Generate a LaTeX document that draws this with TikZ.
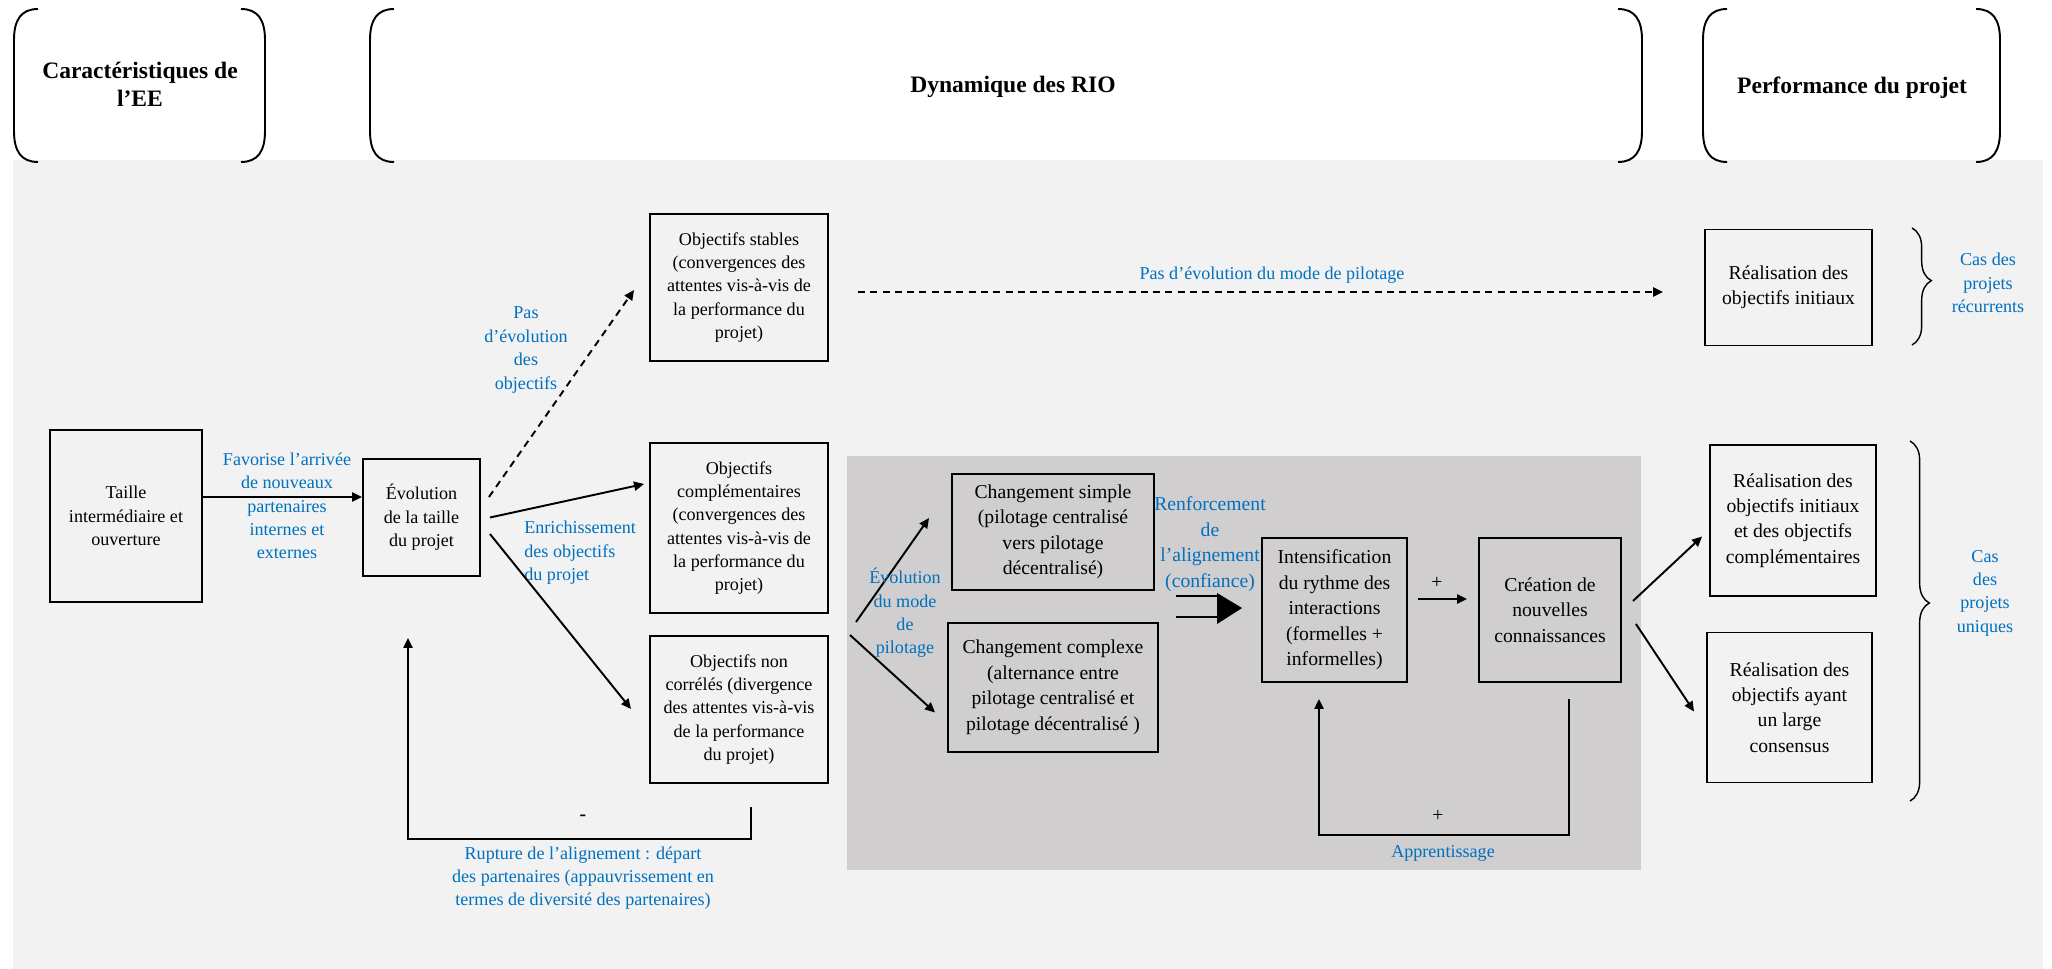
\documentclass[tikz,border=0pt]{standalone}
\usepackage{fontspec}
\setmainfont{Liberation Serif}
\usepackage{tikz}
\usetikzlibrary{arrows.meta, calc, decorations.pathreplacing}
\usepackage{xcolor}
\definecolor{rio-blue}{HTML}{0070C0}
\definecolor{rio-light}{HTML}{F2F2F2}
\definecolor{rio-dark}{HTML}{D0CECE}

\newcommand{\fsA}{\fontsize{10.3pt}{13.3pt}\selectfont}
\newcommand{\fsB}{\fontsize{11.2pt}{14.5pt}\selectfont}
\newcommand{\fsH}{\fontsize{13.4pt}{16pt}\selectfont\bfseries}

\tikzset{
  sz/.style 2 args={minimum width={#1*0.02cm}, minimum height={#2*0.02cm}},
  box/.style={draw, line width=1.1pt, align=center, inner sep=0pt},
  smallbox/.style={box, font=\fsA},
  bigbox/.style={box, font=\fsB},
  lbl/.style={text=rio-blue, font=\fsA, align=center, inner sep=0pt},
  arr/.style={line width=1.1pt, -{Triangle[length=5.7pt, width=5.2pt]}},
  dasharr/.style={arr, dash pattern=on 4pt off 3pt},
  rbrace/.style={line width=0.8pt, decorate,
    decoration={brace, amplitude=11pt, aspect=0.45}}
}

\begin{document}
\begin{tikzpicture}[x=0.02cm, y=-0.02cm]
    \useasboundingbox (0,0) rectangle (2052,969);
    \fill[rio-light] (13,160) rectangle (2043,969);
    \fill[rio-dark] (847,456) rectangle (1641,870);

    \foreach \xa/\xb in {14/265, 370/1642, 1703/2000} {
      \draw[line width=1.1pt] (\xa+24,9) .. controls (\xa+7,9) and (\xa,20) .. (\xa,40)
        -- (\xa,131) .. controls (\xa,151) and (\xa+7,162) .. (\xa+24,162);
      \draw[line width=1.1pt] (\xb-24,9) .. controls (\xb-7,9) and (\xb,20) .. (\xb,40)
        -- (\xb,131) .. controls (\xb,151) and (\xb-7,162) .. (\xb-24,162);
    }
    \node[font=\fsH, align=center] (hdEE) at (140,84) {Caractéristiques de\\l’EE};
    \node[font=\fsH] (hdRIO) at (1013,87) {Dynamique des RIO};
    \node[font=\fsH] (hdPerf) at (1852,88) {Performance du projet};

    \node[smallbox, sz={152}{172}] (taille) at (126,516) {Taille\\intermédiaire et\\ouverture};
    \node[smallbox, sz={117}{117}] (evol) at (421.5,517.5) {Évolution\\de la taille\\du projet};
    \node[smallbox, sz={178}{147}] (obstab) at (739,287.5) {%
      Objectifs stables\\(convergences des\\attentes vis-à-vis de\\la performance du\\projet)};
    \node[smallbox, sz={178}{170}] (obcomp) at (739,528) {%
      Objectifs\\complémentaires\\(convergences des\\attentes vis-à-vis de\\la performance du\\projet)};
    \node[smallbox, sz={178}{147}] (obnon) at (739,709.5) {%
      Objectifs non\\corrélés (divergence\\des attentes vis-à-vis\\de la performance\\du projet)};
    \node[bigbox, sz={202}{116}] (chsimple) at (1053,532) {%
      Changement simple\\(pilotage centralisé\\vers pilotage\\décentralisé)};
    \node[bigbox, sz={210}{129}] (chcomplex) at (1053,687.5) {%
      Changement complexe\\(alternance entre\\pilotage centralisé et\\pilotage décentralisé )};
    \node[bigbox, sz={145}{144}] (intens) at (1334.5,610) {%
      Intensification\\du rythme des\\interactions\\(formelles +\\informelles)};
    \node[bigbox, sz={142}{144}] (creation) at (1550,610) {Création de\\nouvelles\\connaissances};
    \node[bigbox, sz={167}{116}] (realinit) at (1788.5,287.5) {Réalisation des\\objectifs initiaux};
    \node[bigbox, sz={166}{151}] (realcomp) at (1793,520.5) {%
      Réalisation des\\objectifs initiaux\\et des objectifs\\complémentaires};
    \node[bigbox, sz={165}{150}] (realcons) at (1789.5,707.5) {%
      Réalisation des\\objectifs ayant\\un large\\consensus};

    \draw[arr] ($(taille.east)+(0,-19)$) -- ($(evol.west)+(0,-20.5)$);
    \node[lbl] (favorise) at (287,506) {Favorise l’arrivée\\de nouveaux\\partenaires\\internes et\\externes};

    \draw[dasharr] ($(evol.east)+(8,-20.5)$) -- ($(obstab.west)+(-15,2.5)$);
    \node[lbl] (pasobj) at (526,350) {Pas\\d’évolution\\des\\objectifs};
    \draw[arr] ($(evol.east)+(9,0)$) -- ($(obcomp.west)+(-5,-44)$);
    \node[lbl, align=left, anchor=west] (enrich) at (524,553) {Enrichissement\\des objectifs\\du projet};
    \draw[arr] ($(evol.east)+(9,16.5)$) -- ($(obnon.west)+(-18,-0.5)$);

    \coordinate (rupA) at ($(obnon.south)+(12,23)$);
    \draw[arr] (rupA) -- ++(0,32) -| ($(evol.south)+(-13.5,61)$);
    \node[font=\fsB\bfseries] (moins) at (583,818) {-};
    \node[lbl] (rupture) at (583,878) {Rupture de l’alignement : départ\\des partenaires (appauvrissement en\\termes de diversité des partenaires)};

    \draw[dasharr] ($(obstab.east)+(29,4.5)$) -- ($(realinit.west)+(-41,4.5)$);
    \node[lbl] (paspil) at (1272,275) {Pas d’évolution du mode de pilotage};

    \coordinate (pilA) at (856,622);
    \coordinate (pilB) at (850,635);
    \draw[arr] (pilA) -- ($(chsimple.west)+(-22,-14)$);
    \draw[arr] (pilB) -- ($(chcomplex.west)+(-12,25)$);
    \node[lbl] (evolpil) at (905,613) {Évolution\\du mode\\de\\pilotage};

    \coordinate (renfA) at (1176,607);
    \coordinate (renfB) at ($(intens.west)+(-19,-2)$);
    \draw[line width=1.1pt] ($(renfA)+(0,-11)$) -- ++(42,0) ($(renfA)+(0,10)$) -- ++(42,0);
    \fill ($(renfB)+(-25,-15)$) -- (renfB) -- ($(renfB)+(-25,16)$) -- cycle;
    \node[lbl, font=\fsB] (renfort) at (1210,544) {Renforcement\\de\\l’alignement\\(confiance)};

    \draw[arr] ($(intens.east)+(10,-11)$) -- ($(creation.west)+(-11,-11)$);
    \node[font=\fsB] (plusA) at (1437,583) {+};
    \draw[arr] ($(creation.south)+(19,16)$) -- ++(0,136) -| ($(intens.south)+(-15.5,16)$);
    \node[font=\fsB] (plusB) at (1438,816) {+};
    \node[lbl] (apprent) at (1443,853) {Apprentissage};

    \draw[arr] ($(creation.east)+(11,-9)$) -- ($(realcomp.west)+(-7,16)$);
    \draw[arr] ($(creation.east)+(14,14)$) -- ($(realcons.west)+(-12,4)$);

    \draw[rbrace] (1912,228) -- (1912,345);
    \node[lbl] (recur) at (1988,283) {Cas des\\projets\\récurrents};
    \draw[rbrace] (1910,441) -- (1910,801);
    \node[lbl] (uniq) at (1985,593) {Cas\\des\\projets\\uniques};
\end{tikzpicture}
\end{document}
